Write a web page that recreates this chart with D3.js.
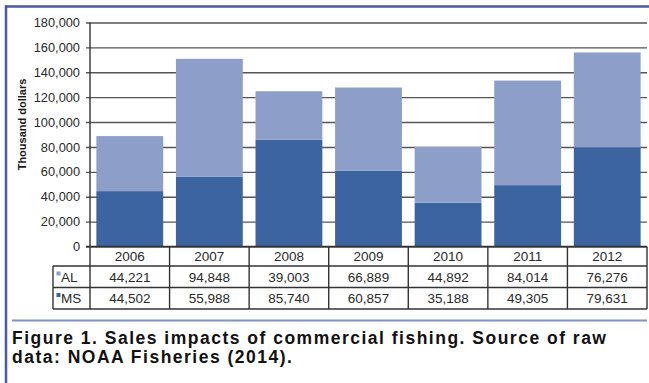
<!DOCTYPE html>
<html>
<head>
<meta charset="utf-8">
<script src="https://cdn.jsdelivr.net/npm/d3@7"></script>
<style>
  html, body { margin: 0; padding: 0; background: #fff; }
  svg { display: block; }
</style>
</head>
<body>
<script>
// Sales impacts of commercial fishing, thousand dollars, by state and year
const years = ["2006", "2007", "2008", "2009", "2010", "2011", "2012"];
const seriesNames = ["MS", "AL"];
const msValues = [44502, 55988, 85740, 60857, 35188, 49305, 79631];
const alValues = [44221, 94848, 39003, 66889, 44892, 84014, 76276];
const yTicks = [0, 20000, 40000, 60000, 80000, 100000, 120000, 140000, 160000, 180000];
const captionLines = [
  "Figure 1. Sales impacts of commercial fishing. Source of raw",
  "data: NOAA Fisheries (2014)."
];

const W = 649, H = 383;
const colors = { AL: "#8d9ec9", MS: "#3b64a0" };
const frameBlue = "#4a58a0";
const gridColor = "#555";
const lineColor = "#333";

const svg = d3.select("body").append("svg")
  .attr("width", W).attr("height", H);

// page frame: blue rule on top and at the left
svg.append("line").attr("x1", 5).attr("x2", W).attr("y1", 6.5).attr("y2", 6.5)
  .attr("stroke", frameBlue).attr("stroke-width", 2.5);
svg.append("line").attr("x1", 6).attr("x2", 6).attr("y1", 5.5).attr("y2", H)
  .attr("stroke", frameBlue).attr("stroke-width", 2.5);

const plotLeft = 90, plotRight = 647, plotTop = 22.5, plotBase = 246.5;

const x = d3.scaleBand().domain(years).range([plotLeft, plotRight]).padding(0);
const y = d3.scaleLinear().domain([0, 180000]).range([plotBase, plotTop]);

// gridlines with outward tick stubs
const yAxis = d3.axisLeft(y).tickValues(yTicks)
  .tickSize(-(plotRight - plotLeft)).tickSizeOuter(0)
  .tickFormat(d3.format(","));
const gy = svg.append("g").attr("transform", `translate(${plotLeft},0)`).call(yAxis);
gy.select(".domain").remove();
gy.selectAll(".tick line")
  .attr("x1", -4)
  .attr("stroke", gridColor).attr("stroke-width", 1.4);
gy.selectAll(".tick text")
  .attr("x", -10)
  .attr("fill", "#2a2a2a")
  .style("font-family", "'Liberation Sans', Arial, sans-serif")
  .style("font-size", "12.8px");

// stacked bars: MS at the base, AL on top
const rows = years.map((yr, i) => ({ year: yr, MS: msValues[i], AL: alValues[i] }));
const stacked = d3.stack().keys(seriesNames)(rows);
const barW = x.bandwidth() * 0.84;
svg.append("g").selectAll("g").data(stacked).join("g")
  .attr("fill", d => colors[d.key])
  .selectAll("rect").data(d => d).join("rect")
  .attr("x", d => x(d.data.year) + (x.bandwidth() - barW) / 2)
  .attr("width", barW)
  .attr("y", d => y(d[1]))
  .attr("height", d => y(d[0]) - y(d[1]));

// data table under the axis
const rowH = [19.5, 21.5, 21.5];
const rowY = [plotBase, plotBase + rowH[0], plotBase + rowH[0] + rowH[1], plotBase + rowH[0] + rowH[1] + rowH[2]];
const labelLeft = 53;
const tbl = svg.append("g")
  .attr("stroke", lineColor).attr("stroke-width", 1.4).attr("fill", "none");

// x axis (top edge of the table)
tbl.append("line").attr("x1", plotLeft - 4).attr("x2", plotRight).attr("y1", rowY[0]).attr("y2", rowY[0]);
// y axis line continuing through the table
tbl.append("line").attr("x1", plotLeft).attr("x2", plotLeft).attr("y1", plotTop).attr("y2", rowY[3]);
// horizontal rules
[1, 2, 3].forEach(k => {
  tbl.append("line").attr("x1", labelLeft).attr("x2", plotRight).attr("y1", rowY[k]).attr("y2", rowY[k]);
});
// left edge of the label column
tbl.append("line").attr("x1", labelLeft).attr("x2", labelLeft).attr("y1", rowY[1]).attr("y2", rowY[3]);
// column dividers
years.forEach(yr => {
  const xr = x(yr) + x.bandwidth();
  tbl.append("line").attr("x1", xr).attr("x2", xr).attr("y1", rowY[0]).attr("y2", rowY[3]);
});

const cellFont = "'Liberation Sans', Arial, sans-serif";
const cellSize = "13.5px";
const txt = svg.append("g")
  .style("font-family", cellFont).style("font-size", cellSize)
  .attr("fill", "#2a2a2a").attr("text-anchor", "middle");

txt.selectAll(".hdr").data(years).join("text")
  .attr("x", d => x(d) + x.bandwidth() / 2)
  .attr("y", rowY[0] + 14.5)
  .text(d => d);

const tableRows = [
  { name: "AL", values: alValues },
  { name: "MS", values: msValues }
];
tableRows.forEach((r, k) => {
  const yMid = rowY[k + 1];
  txt.append("g").selectAll("text").data(r.values).join("text")
    .attr("x", (d, i) => x(years[i]) + x.bandwidth() / 2)
    .attr("y", yMid + 15.8)
    .text(d => d3.format(",")(d));
  // legend key
  svg.append("rect")
    .attr("x", labelLeft + 3.5).attr("y", yMid + 5.5)
    .attr("width", 4).attr("height", 4)
    .attr("fill", colors[r.name]);
  svg.append("text")
    .attr("x", labelLeft + 8).attr("y", yMid + 15.8)
    .style("font-family", cellFont).style("font-size", cellSize)
    .attr("fill", "#2a2a2a")
    .text(r.name);
});

// y axis title
svg.append("text")
  .attr("transform", `translate(26,${(plotTop + plotBase) / 2 - 10}) rotate(-90)`)
  .attr("text-anchor", "middle")
  .style("font-family", "'Liberation Sans', Arial, sans-serif")
  .style("font-size", "11px").style("font-weight", "bold")
  .attr("fill", "#1a1a1a")
  .text("Thousand dollars");

// separator rule above the caption
svg.append("line").attr("x1", 12).attr("x2", plotRight).attr("y1", 320.5).attr("y2", 320.5)
  .attr("stroke", "#8291c2").attr("stroke-width", 2);

// caption: wide bold face, tracked out so the first line spans the figure
const cap = svg.append("g")
  .style("font-family", "'Liberation Sans', Arial, sans-serif")
  .style("font-weight", "bold")
  .style("font-size", "17.5px")
  .attr("fill", "#111");
captionLines.forEach((line, i) => {
  cap.append("text")
    .attr("x", 12).attr("y", 344 + i * 19)
    .text(line);
});
const first = cap.select("text").node();
const w = first.getComputedTextLength();
const spacing = Math.max(0, (594 - w) / (captionLines[0].length - 1));
cap.selectAll("text").style("letter-spacing", spacing + "px");
</script>
</body>
</html>
